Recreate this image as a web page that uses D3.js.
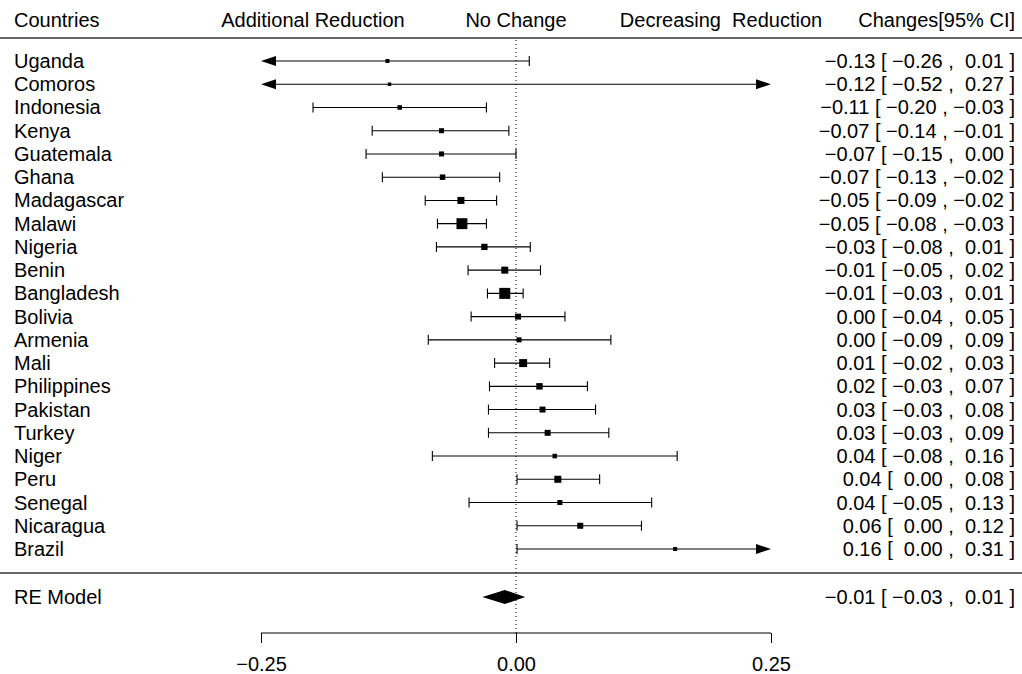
<!DOCTYPE html>
<html lang="en">

<head>
    <meta charset="UTF-8">
    <script src="https://d3js.org/d3.v7.min.js"></script>
    <title>Forest plot</title>
    <style>
        body {
            margin: 0;
            background: #fff;
        }

        text {
            font-family: "Liberation Sans", Arial, Helvetica, sans-serif;
            font-size: 20px;
            fill: #000;
            white-space: pre;
        }
    </style>
</head>

<body>
    <script>
        // study rows, top to bottom
        var countries = ["Uganda", "Comoros", "Indonesia", "Kenya", "Guatemala", "Ghana", "Madagascar",
            "Malawi", "Nigeria", "Benin", "Bangladesh", "Bolivia", "Armenia", "Mali", "Philippines",
            "Pakistan", "Turkey", "Niger", "Peru", "Senegal", "Nicaragua", "Brazil"]
        var estimates = [-0.126, -0.124, -0.114, -0.073, -0.073, -0.072, -0.054,
            -0.053, -0.031, -0.011, -0.011, 0.002, 0.003, 0.007, 0.023,
            0.026, 0.031, 0.038, 0.041, 0.043, 0.063, 0.156]
        var ciLower = [-0.26, -0.52, -0.199, -0.141, -0.147, -0.131, -0.089,
            -0.077, -0.078, -0.047, -0.028, -0.044, -0.086, -0.021, -0.026,
            -0.027, -0.027, -0.082, 0.001, -0.046, 0.001, 0.001]
        var ciUpper = [0.013, 0.27, -0.029, -0.007, 0.000, -0.016, -0.019,
            -0.029, 0.014, 0.024, 0.007, 0.048, 0.093, 0.033, 0.070,
            0.078, 0.091, 0.158, 0.082, 0.133, 0.123, 0.31]
        // study weights (%), drive square size
        var weights = [1.4, 0.9, 2.0, 2.5, 2.5, 3.0, 4.6,
            8.7, 3.85, 4.6, 8.8, 3.5, 2.5, 5.6, 4.0,
            3.5, 3.5, 2.0, 4.6, 2.5, 3.5, 1.4]

        // random-effects summary
        var modelLabel = "RE Model"
        var modelEst = -0.011
        var modelLower = -0.033
        var modelUpper = 0.009

        var headers = ["Countries", "Additional Reduction", "No Change", "Decreasing  Reduction", "Changes[95% CI]"]
        var axisTicks = [-0.25, 0, 0.25]

        var width = 1022, height = 674

        var svg = d3.select("body")
            .append("svg")
            .attr("width", width)
            .attr("height", height)

        var x = d3.scaleLinear().domain([-0.25, 0.25]).range([261, 771])
        var y = d3.scaleLinear().domain([0, countries.length - 1]).range([61, 549])
        var size = d3.scaleLinear().domain(d3.extent(weights)).range([3.5, 11])

        var rows = countries.map(function (c, i) {
            return { name: c, est: estimates[i], lo: ciLower[i], hi: ciUpper[i], w: weights[i], i: i }
        })

        function fmt(v, pad) {
            var s = v.toFixed(2)
            if (s == "-0.00") s = "0.00"
            if (s[0] == "-") return "\u2212" + s.slice(1)
            return pad ? " " + s : s
        }
        function ciText(est, lo, hi) {
            return fmt(est) + " [ " + fmt(lo, true) + " , " + fmt(hi, true) + " ]"
        }

        var yAxis = 633
        var yModel = 597

        // header
        var headerX = [14, 313, 516, 721, 1015]
        var headerAnchor = ["start", "middle", "middle", "middle", "end"]
        svg.selectAll(".header")
            .data(headers)
            .join("text")
            .attr("class", "header")
            .attr("x", function (d, i) { return headerX[i] })
            .attr("y", 27)
            .attr("text-anchor", function (d, i) { return headerAnchor[i] })
            .text(function (d) { return d })

        // separators
        svg.selectAll(".sep")
            .data([38, 573])
            .join("line")
            .attr("class", "sep")
            .attr("x1", 0).attr("x2", width)
            .attr("y1", function (d) { return d }).attr("y2", function (d) { return d })
            .attr("stroke", "#666")
            .attr("stroke-width", 1.8)

        // reference line at zero
        svg.append("line")
            .attr("x1", x(0)).attr("x2", x(0))
            .attr("y1", 40).attr("y2", yAxis)
            .attr("stroke", "#000")
            .attr("stroke-width", 1)
            .attr("stroke-dasharray", "1,3")

        // CI lines (clipped to axis limits)
        var lim = x.domain()
        var g = svg.append("g")
        g.selectAll(".ci")
            .data(rows)
            .join("line")
            .attr("class", "ci")
            .attr("x1", function (d) { return x(Math.max(d.lo, lim[0])) + (d.lo < lim[0] ? 10 : 0) })
            .attr("x2", function (d) { return x(Math.min(d.hi, lim[1])) - (d.hi > lim[1] ? 10 : 0) })
            .attr("y1", function (d) { return y(d.i) })
            .attr("y2", function (d) { return y(d.i) })
            .attr("stroke", "#000")
            .attr("stroke-width", 1.1)

        // whisker ends
        var ends = []
        rows.forEach(function (d) {
            if (d.lo >= lim[0]) ends.push({ v: d.lo, i: d.i })
            if (d.hi <= lim[1]) ends.push({ v: d.hi, i: d.i })
        })
        g.selectAll(".tick-end")
            .data(ends)
            .join("line")
            .attr("class", "tick-end")
            .attr("x1", function (d) { return x(d.v) })
            .attr("x2", function (d) { return x(d.v) })
            .attr("y1", function (d) { return y(d.i) - 5 })
            .attr("y2", function (d) { return y(d.i) + 5 })
            .attr("stroke", "#000")
            .attr("stroke-width", 1.1)

        // arrows for truncated intervals
        var arrows = []
        rows.forEach(function (d) {
            if (d.lo < lim[0]) arrows.push({ v: lim[0], dir: -1, i: d.i })
            if (d.hi > lim[1]) arrows.push({ v: lim[1], dir: 1, i: d.i })
        })
        g.selectAll(".arrow")
            .data(arrows)
            .join("path")
            .attr("class", "arrow")
            .attr("d", function (d) {
                var tx = x(d.v), ty = y(d.i)
                var bx = tx - d.dir * 15
                return "M" + tx + "," + ty + "L" + bx + "," + (ty - 5) + "L" + bx + "," + (ty + 5) + "Z"
            })
            .attr("fill", "#000")

        // point estimates
        g.selectAll(".pt")
            .data(rows)
            .join("rect")
            .attr("class", "pt")
            .attr("x", function (d) { return x(d.est) - size(d.w) / 2 })
            .attr("y", function (d) { return y(d.i) - size(d.w) / 2 })
            .attr("width", function (d) { return size(d.w) })
            .attr("height", function (d) { return size(d.w) })
            .attr("fill", "#000")

        // labels
        svg.selectAll(".name")
            .data(rows)
            .join("text")
            .attr("class", "name")
            .attr("x", 14)
            .attr("y", function (d) { return y(d.i) + 7 })
            .text(function (d) { return d.name })

        svg.selectAll(".ci-text")
            .data(rows)
            .join("text")
            .attr("class", "ci-text")
            .attr("x", 1015)
            .attr("y", function (d) { return y(d.i) + 7 })
            .attr("text-anchor", "end")
            .text(function (d) { return ciText(d.est, d.lo, d.hi) })

        // summary diamond
        svg.append("path")
            .attr("d", "M" + x(modelLower) + "," + yModel +
                "L" + x(modelEst) + "," + (yModel - 7) +
                "L" + x(modelUpper) + "," + yModel +
                "L" + x(modelEst) + "," + (yModel + 7) + "Z")
            .attr("fill", "#000")
        svg.append("text")
            .attr("x", 14)
            .attr("y", yModel + 7)
            .text(modelLabel)
        svg.append("text")
            .attr("x", 1015)
            .attr("y", yModel + 7)
            .attr("text-anchor", "end")
            .text(ciText(modelEst, modelLower, modelUpper))

        // bottom axis
        var axis = svg.append("g")
            .attr("transform", "translate(0," + yAxis + ")")
            .call(d3.axisBottom(x).tickValues(axisTicks).tickSize(10).tickPadding(14)
                .tickFormat(function (d) { return fmt(d) }))
        axis.select(".domain")
            .attr("d", "M" + x(lim[0]) + ",0H" + x(lim[1]))
            .attr("stroke", "#000")
        axis.selectAll(".tick line").attr("stroke", "#000")
        axis.selectAll(".tick text")
            .style("font-size", "20px")
            .attr("fill", "#000")
    </script>
</body>

</html>
